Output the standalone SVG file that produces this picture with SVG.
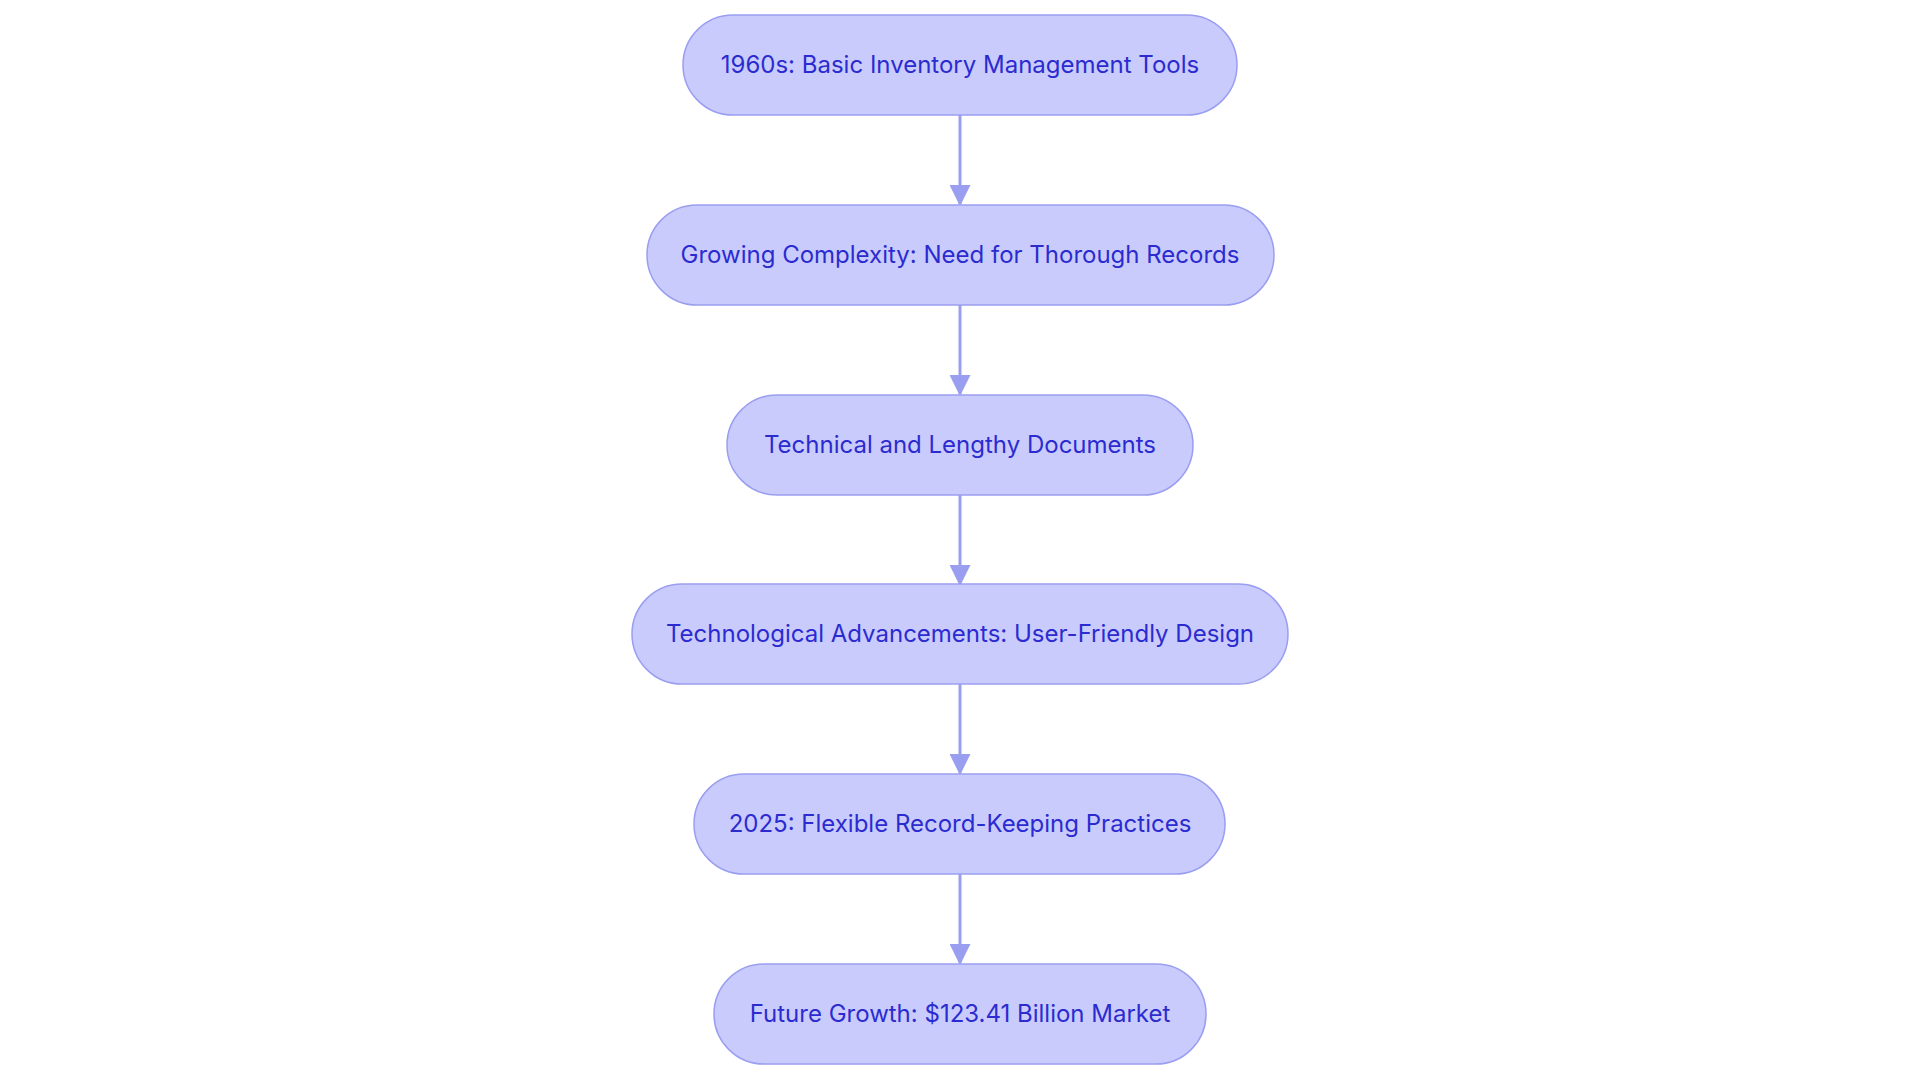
<svg xmlns="http://www.w3.org/2000/svg" width="1920" height="1083" viewBox="0 0 1920 1083">
<style>
.n rect{fill:#c9cbfd;stroke:#9a9ef0;stroke-width:1.5}
.n text{font-family:Inter,"Noto Sans",sans-serif;font-size:24px;fill:#2b2bd0;text-anchor:middle;dominant-baseline:central}
.e line{stroke:#9a9ef0;stroke-width:3}
</style>
<defs><marker id="a" viewBox="0 0 10 10" refX="10" refY="5" markerWidth="8" markerHeight="8" markerUnits="userSpaceOnUse" orient="auto"><path d="M0,0L10,5L0,10z" fill="#9a9ef0"/></marker>
<marker id="b" viewBox="0 0 10 10" refX="9" refY="5" markerWidth="7" markerHeight="7" orient="auto"><path d="M0,0L10,5L0,10z" fill="#9a9ef0"/></marker></defs>
<rect width="1920" height="1083" fill="#fff"/>
<g class="e">
<line x1="960" y1="115" x2="960" y2="204" marker-end="url(#b)"/>
<line x1="960" y1="305" x2="960" y2="394" marker-end="url(#b)"/>
<line x1="960" y1="495" x2="960" y2="584" marker-end="url(#b)"/>
<line x1="960" y1="684" x2="960" y2="773" marker-end="url(#b)"/>
<line x1="960" y1="874" x2="960" y2="963" marker-end="url(#b)"/>
</g>
<g class="n" id="n1"><rect x="683" y="15" width="554" height="100" rx="50"/><text x="960" y="64">1960s: Basic Inventory Management Tools</text></g>
<g class="n" id="n2"><rect x="647" y="205" width="627" height="100" rx="50"/><text x="960" y="254">Growing Complexity: Need for Thorough Records</text></g>
<g class="n" id="n3"><rect x="727" y="395" width="466" height="100" rx="50"/><text x="960" y="444">Technical and Lengthy Documents</text></g>
<g class="n" id="n4"><rect x="632" y="584" width="656" height="100" rx="50"/><text x="960" y="633">Technological Advancements: User-Friendly Design</text></g>
<g class="n" id="n5"><rect x="694" y="774" width="531" height="100" rx="50"/><text x="960" y="823">2025: Flexible Record-Keeping Practices</text></g>
<g class="n" id="n6"><rect x="714" y="964" width="492" height="100" rx="50"/><text x="960" y="1013">Future Growth: $123.41 Billion Market</text></g>
</svg>
